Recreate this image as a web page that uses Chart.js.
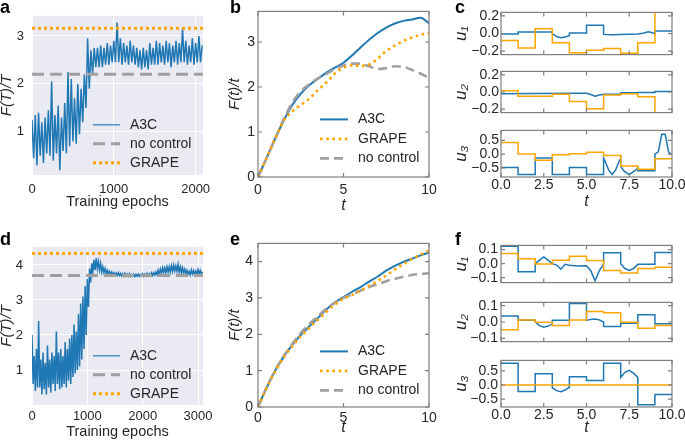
<!DOCTYPE html>
<html>
<head>
<meta charset="utf-8">
<script src="https://cdn.jsdelivr.net/npm/chart.js@4.4.0/dist/chart.umd.min.js"></script>
<style>
  html, body { margin: 0; padding: 0; background: #fff; }
  #fig { position: relative; width: 685px; height: 442px; overflow: hidden; }
  #fig canvas { position: absolute; }
  .tag { position: absolute; font: bold 18px "Liberation Sans", Arial, sans-serif; color: #000; line-height: 1; }
</style>
</head>
<body>
<div id="fig">
  <canvas id="cA"></canvas>
  <canvas id="cB"></canvas>
  <canvas id="cC1"></canvas>
  <canvas id="cC2"></canvas>
  <canvas id="cC3"></canvas>
  <canvas id="cD"></canvas>
  <canvas id="cE"></canvas>
  <canvas id="cF1"></canvas>
  <canvas id="cF2"></canvas>
  <canvas id="cF3"></canvas>
  <div class="tag" style="left:0;top:-2px">a</div>
  <div class="tag" style="left:230px;top:-2px">b</div>
  <div class="tag" style="left:455px;top:-2px">c</div>
  <div class="tag" style="left:0;top:230px">d</div>
  <div class="tag" style="left:230px;top:230px">e</div>
  <div class="tag" style="left:455px;top:230px">f</div>
</div>
<script>
// ---- data ----

// a, d: F(T)/T during training, one value every 20 epochs
const epochStep = 20;
const fitA = [
  1.25, 0.45, 1.35, 0.3, 1.4, 0.5, 1.2, 0.35, 1.3, 0.55,
  1.45, 0.5, 2.05, 0.4, 1.35, 0.55, 1.55, 0.2, 1.3, 0.6,
  1.6, 0.55, 2.25, 0.7, 2.1, 0.8, 1.7, 0.75, 2.0, 0.95,
  1.9, 1.2, 2.2, 1.5, 2.95, 1.9, 2.7, 2.2, 2.75, 2.35,
  2.75, 2.35, 2.8, 2.35, 2.75, 2.4, 2.85, 2.4, 2.8, 2.45,
  2.9, 2.45, 3.28, 2.45, 2.95, 2.4, 2.85, 2.45, 2.8, 2.4,
  2.9, 2.45, 2.8, 2.4, 2.75, 2.35, 2.7, 2.3, 2.75, 2.35,
  2.7, 2.3, 2.85, 2.4, 2.75, 2.4, 2.9, 2.4, 2.85, 2.45,
  2.8, 2.4, 2.9, 2.45, 2.85, 2.35, 2.8, 2.45, 2.9, 2.4,
  2.85, 2.45, 3.15, 2.45, 2.9, 2.4, 2.8, 2.45, 2.95, 2.4,
  2.85, 2.45, 3.0, 2.45, 2.8
];
const noControlA = 2.2, grapeA = 3.16;

const fitD = [
  2.0, 0.6, 1.4, 0.4, 1.6, 0.5, 2.4, 0.5, 1.3, 0.3,
  1.5, 0.45, 1.2, 0.3, 1.7, 0.5, 1.3, 0.35, 1.5, 0.6,
  1.4, 0.4, 2.1, 0.6, 1.5, 0.45, 1.6, 0.5, 1.4, 0.6,
  1.8, 0.5, 1.6, 0.7, 1.9, 0.6, 2.0, 0.8, 2.3, 0.9,
  2.1, 1.0, 2.6, 1.1, 2.9, 1.3, 3.1, 1.6, 3.4, 2.0,
  3.6, 2.8, 3.9, 3.5, 4.05, 3.8, 4.15, 3.85, 4.2, 3.9,
  4.1, 3.85, 4.05, 3.8, 3.95, 3.78, 3.9, 3.75, 3.85, 3.75,
  3.82, 3.73, 3.8, 3.72, 3.78, 3.71, 3.77, 3.7, 3.78, 3.7,
  3.76, 3.69, 3.75, 3.68, 3.76, 3.68, 3.74, 3.68, 3.75, 3.67,
  3.73, 3.68, 3.74, 3.67, 3.73, 3.68, 3.74, 3.68, 3.73, 3.69,
  3.75, 3.68, 3.74, 3.69, 3.76, 3.69, 3.75, 3.7, 3.78, 3.7,
  3.78, 3.71, 3.8, 3.72, 3.85, 3.74, 3.88, 3.76, 3.92, 3.78,
  3.92, 3.78, 3.95, 3.8, 3.95, 3.8, 3.98, 3.82, 4.0, 3.83,
  3.97, 3.82, 4.02, 3.8, 3.95, 3.78, 3.92, 3.77, 3.88, 3.75,
  3.85, 3.73, 3.82, 3.72, 3.86, 3.74, 3.84, 3.72, 3.82, 3.74,
  3.87, 3.74, 3.85, 3.75, 3.8
];
const noControlD = 3.7, grapeD = 4.33;

// b, e: F(t)/t along the trajectory
const tCurve = [0, 0.5, 1, 1.5, 2, 2.5, 3, 3.5, 4, 4.5, 5, 5.5, 6, 6.5, 7, 7.5, 8, 8.5, 9, 9.5, 10];
const a3cB    = [0, 0.42, 0.85, 1.25, 1.6, 1.85, 2.04, 2.18, 2.32, 2.43, 2.54, 2.7, 2.88, 3.05, 3.2, 3.32, 3.41, 3.47, 3.5, 3.54, 3.42];
const grapeB  = [0, 0.42, 0.85, 1.25, 1.46, 1.6, 1.74, 1.93, 2.1, 2.3, 2.43, 2.48, 2.47, 2.5, 2.63, 2.8, 2.92, 3.02, 3.1, 3.16, 3.2];
const noCtrlB = [0, 0.42, 0.85, 1.28, 1.65, 1.9, 2.06, 2.19, 2.29, 2.4, 2.48, 2.52, 2.52, 2.46, 2.4, 2.42, 2.46, 2.45, 2.38, 2.3, 2.2];
const a3cE    = [0, 0.53, 1.0, 1.38, 1.7, 1.98, 2.22, 2.45, 2.68, 2.88, 3.02, 3.17, 3.3, 3.45, 3.59, 3.75, 3.88, 3.99, 4.08, 4.17, 4.25];
const grapeE  = [0, 0.52, 0.98, 1.36, 1.67, 1.94, 2.18, 2.4, 2.62, 2.82, 2.98, 3.08, 3.2, 3.33, 3.47, 3.62, 3.78, 3.93, 4.07, 4.19, 4.3];
const noCtrlE = [0, 0.53, 1.0, 1.4, 1.73, 2.03, 2.28, 2.5, 2.7, 2.87, 3.0, 3.1, 3.2, 3.3, 3.38, 3.46, 3.53, 3.58, 3.63, 3.66, 3.68];

// c, f: control pulses. GRAPE is constant on each [k, k+1)
const grapeCu1 = [-0.08, -0.165, 0.055, -0.105, -0.22, -0.19, -0.17, -0.225, -0.105, 0.45];
const grapeCu2 = [0.015, -0.05, -0.05, -0.025, -0.11, -0.195, -0.035, -0.02, -0.055, -0.45];
const grapeCu3 = [0.42, 0.0, -0.22, -0.02, 0.01, 0.07, -0.05, -0.43, -0.55, -0.17];
const grapeFu1 = [0.072, 0.035, -0.002, 0.025, 0.053, 0.022, -0.048, -0.067, -0.035, -0.025];
const grapeFu2 = [-0.047, 0.013, -0.002, -0.022, 0.012, 0.065, 0.057, -0.002, -0.038, -0.022];
const grapeFu3 = [0, 0, 0, 0, 0, 0, 0, 0, 0, 0];

// A3C pulses as [t, u] vertices
const a3cCu1 = [[0, -0.005], [1, -0.005], [1, 0.016], [3, 0.016], [3, 0.0], [3.25, -0.035], [3.5, -0.047], [3.75, -0.04], [4, -0.026],
  [4, 0.006], [5, 0.006], [5, 0.094], [6, 0.094], [6, -0.01], [6.5, -0.013], [7, -0.01], [8, -0.005], [8.3, 0.004], [8.6, 0.02],
  [8.8, 0.012], [9, -0.002], [9, 0.029], [10, 0.029]];
const a3cCu2 = [[0, -0.02], [4, -0.016], [5, -0.015], [5.25, -0.03], [5.5, -0.05], [5.75, -0.035], [6, -0.025], [7, -0.025],
  [7, -0.008], [8, -0.008], [8, -0.005], [9, -0.005], [9, 0.005], [10, 0.005]];
const a3cCu3 = [[0, -0.49], [1, -0.49], [1, -0.74], [2, -0.74], [2, -0.14], [3, -0.14], [3, -0.74], [4, -0.74], [4, -0.49], [5, -0.49],
  [5, -0.74], [6, -0.74], [6, -0.15], [6.15, -0.35], [6.3, -0.58], [6.5, -0.74], [6.7, -0.58], [6.85, -0.35], [7, -0.15],
  [7, -0.45], [7.2, -0.62], [7.5, -0.74], [7.8, -0.62], [8, -0.5], [8, -0.6], [9, -0.6], [9, 0.0], [9.2, 0.08], [9.4, 0.72],
  [9.6, 0.72], [9.8, 0.08], [9.9, 0.01], [10, 0.01]];
const a3cFu1 = [[0, 0.124], [1, 0.124], [1, -0.057], [2, -0.057], [2, 0.0], [2.25, 0.025], [2.5, 0.048], [2.75, 0.025], [3, 0.0],
  [3.25, -0.01], [3.5, -0.04], [3.75, -0.005], [4, -0.012], [4.5, -0.016], [5, -0.015], [5.25, -0.05], [5.5, -0.122],
  [5.75, -0.05], [6, -0.005], [6, 0.078], [7, 0.078], [7, 0.0], [7.25, -0.035], [7.5, -0.048], [7.75, -0.035], [8, -0.005],
  [9, -0.005], [9, 0.08], [10, 0.08]];
const a3cFu2 = [[0, 0.037], [1, 0.037], [1, 0.01], [2, 0.01], [2, 0.0], [2.25, -0.022], [2.5, -0.032], [2.75, -0.025], [3, -0.013],
  [3, 0.01], [4, 0.01], [4, 0.113], [5, 0.113], [5, 0.01], [5.25, 0.016], [5.5, 0.018], [5.75, 0.013], [6, 0.0], [6, -0.027],
  [7, -0.027], [7, -0.007], [8, -0.007], [8, 0.045], [9, 0.045], [9, -0.01], [10, -0.01]];
const a3cFu3 = [[0, 0.77], [1, 0.77], [1, -0.23], [2, -0.23], [2, 0.4], [3, 0.4], [3, -0.1], [3.25, -0.2], [3.5, -0.24],
  [3.75, -0.18], [4, -0.08], [4, 0.29], [5, 0.29], [5, 0.16], [6, 0.16], [6, 0.77], [7, 0.77], [7, 0.27], [7.25, 0.45],
  [7.5, 0.52], [7.75, 0.42], [8, 0.27], [8, -0.7], [9, -0.7], [9, -0.34], [10, -0.34]];

// tick values
const ticksEpochA = [0, 1000, 2000], ticksFitA = [1, 2, 3];
const ticksEpochD = [0, 1000, 2000, 3000], ticksFitD = [1, 2, 3, 4];
const ticksT = [0, 5, 10], ticksFB = [0, 1, 2, 3], ticksFE = [0, 1, 2, 3, 4];
const ticksPulseT = [0, 2.5, 5, 7.5, 10];
const ticksU2 = [-0.2, 0, 0.2], ticksU1 = [-0.1, 0, 0.1], ticksU3 = [-0.5, 0, 0.5];

// ---- drawing ----
const BLUE = '#1f77b4', ORANGE = '#ffa500', GRAY = '#a0a0a0', FRAME = '#7f7f7f', INK = '#262626';
const FONT = '"Liberation Sans", Arial, sans-serif';
Chart.defaults.font.family = FONT;
Chart.defaults.color = INK;

const shade = {
  id: 'shade',
  beforeDraw(chart, args, o) {
    if (!o || !o.color) return;
    const {ctx, chartArea: a} = chart;
    ctx.save();
    ctx.fillStyle = o.color;
    ctx.fillRect(a.left, a.top, a.right - a.left, a.bottom - a.top);
    ctx.restore();
  }
};

// grey box with inward ticks on all four sides
const frame = {
  id: 'frame',
  afterDatasetsDraw(chart, args, o) {
    if (!o || !o.color) return;
    const {ctx, chartArea: a, scales: {x, y}} = chart;
    ctx.save();
    ctx.strokeStyle = o.color;
    ctx.lineWidth = 1.2;
    ctx.strokeRect(a.left, a.top, a.right - a.left, a.bottom - a.top);
    ctx.beginPath();
    x.ticks.forEach(t => {
      const p = x.getPixelForValue(t.value);
      ctx.moveTo(p, a.bottom); ctx.lineTo(p, a.bottom - 4);
      ctx.moveTo(p, a.top); ctx.lineTo(p, a.top + 4);
    });
    y.ticks.forEach(t => {
      const p = y.getPixelForValue(t.value);
      ctx.moveTo(a.left, p); ctx.lineTo(a.left + 4, p);
      ctx.moveTo(a.right, p); ctx.lineTo(a.right - 4, p);
    });
    ctx.stroke();
    ctx.restore();
  }
};

// legend placed at a fixed spot inside the plot
const cornerLegend = {
  id: 'cornerLegend',
  afterDraw(chart, args, o) {
    if (!o || o.x == null) return;
    const {ctx, chartArea: a} = chart;
    ctx.save();
    ctx.font = o.size + 'px ' + FONT;
    ctx.textBaseline = 'middle';
    ctx.fillStyle = INK;
    chart.data.datasets.forEach((ds, i) => {
      const x = a.left + o.x, y = a.top + o.y + i * o.row;
      ctx.strokeStyle = ds.legendColor || ds.borderColor;
      ctx.lineWidth = ds.legendWidth || ds.borderWidth;
      ctx.setLineDash(ds.borderDash || []);
      ctx.beginPath(); ctx.moveTo(x, y); ctx.lineTo(x + o.len, y); ctx.stroke();
      ctx.fillText(ds.label, x + o.len + o.gap, y);
    });
    ctx.restore();
  }
};

const xy = (xs, ys) => ys.map((y, i) => ({x: xs[i], y}));
const byEpoch = ys => ys.map((y, i) => ({x: i * epochStep, y}));
const level = (v, xmax) => [{x: 0, y: v}, {x: xmax, y: v}];
const steps = v => v.flatMap((u, k) => [{x: k, y: u}, {x: k + 1, y: u}]);
const verts = arr => arr.map(([x, y]) => ({x, y}));
const dec = v => (v < 0 ? '\u2212' : '') + Math.abs(v).toFixed(1);
const int = v => String(v);

function line(label, data, color, width, dash, order, smooth, extra) {
  return Object.assign({
    label, data, borderColor: color, borderWidth: width, borderDash: dash || [], order,
    pointRadius: 0, fill: false,
    tension: smooth ? 0.4 : 0, cubicInterpolationMode: smooth ? 'monotone' : 'default'
  }, extra || {});
}

function axis(o) {
  return {
    type: 'linear', min: o.min, max: o.max,
    afterBuildTicks: s => { s.ticks = o.ticks.map(value => ({value})); },
    afterFit: s => { if (s.isHorizontal()) s.height = o.size; else s.width = o.size; },
    grid: o.grid ? {color: '#ffffff', lineWidth: 1, drawTicks: false} : {display: false, drawTicks: false},
    border: {display: false},
    ticks: {display: o.labels !== false, padding: o.pad || 0, font: {size: o.fs || 13}, color: INK,
            callback: o.fmt || int, maxRotation: 0, autoSkip: false},
    title: o.title ? {display: true, text: o.title, color: INK,
                      font: {size: o.tfs || 15, style: o.italic ? 'italic' : 'normal'},
                      padding: o.tpad || {top: 0, bottom: 0}} : {display: false}
  };
}

function panel(id, box, m, datasets, x, y, plug) {
  const cv = document.getElementById(id);
  const w = box.w + m.L + m.R, h = box.h + m.T + m.B;
  cv.width = w; cv.height = h;
  Object.assign(cv.style, {left: (box.l - m.L) + 'px', top: (box.t - m.T) + 'px', width: w + 'px', height: h + 'px'});
  x.size = m.B; y.size = m.L;
  return new Chart(cv, {
    type: 'line',
    data: {datasets},
    options: {
      responsive: false, animation: false, events: [],
      layout: {padding: {top: m.T, right: m.R, left: 0, bottom: 0}, autoPadding: false},
      scales: {x: axis(x), y: axis(y)},
      plugins: Object.assign({legend: {display: false}, tooltip: {enabled: false}}, plug)
    },
    plugins: [shade, frame, cornerLegend]
  });
}

// a
panel('cA', {l: 32, t: 9, w: 171, h: 166}, {L: 40, T: 9, R: 20, B: 38}, [
  line('A3C', byEpoch(fitA), '#1f77b4', 1.5, null, 3, false, {legendColor: '#4a93c6', legendWidth: 1.5}),
  line('no control', level(noControlA, 2090), GRAY, 3, [12, 6], 2),
  line('GRAPE', level(grapeA, 2090), ORANGE, 3, [3, 3], 1)
], {min: 0, max: 2090, ticks: ticksEpochA, grid: true, pad: 7, fs: 13, title: 'Training epochs', tfs: 14.5, tpad: {top: 0, bottom: 2}},
   {min: 0.1, max: 3.42, ticks: ticksFitA, grid: true, pad: 8, fs: 13, title: 'F(T)/T', italic: true, tfs: 15, tpad: {top: 6, bottom: 0}},
   {shade: {color: '#eaeaf2'}, cornerLegend: {x: 61, y: 109, row: 19, len: 27, gap: 10, size: 14}});

// b
panel('cB', {l: 258, t: 10, w: 171, h: 167}, {L: 36, T: 10, R: 20, B: 38}, [
  line('A3C', xy(tCurve, a3cB), BLUE, 2, null, 3, true),
  line('GRAPE', xy(tCurve, grapeB), ORANGE, 2.6, [2.6, 3.6], 1, true),
  line('no control', xy(tCurve, noCtrlB), GRAY, 2.6, [9, 5], 2, true)
], {min: 0, max: 10, ticks: ticksT, pad: 5, fs: 14, title: 't', italic: true, tfs: 16, tpad: {top: 0, bottom: 0}},
   {min: 0, max: 3.68, ticks: ticksFB, pad: 3, fs: 14, title: 'F(t)/t', italic: true, tfs: 15, tpad: {top: 4, bottom: 0}},
   {frame: {color: FRAME}, cornerLegend: {x: 62, y: 108, row: 19.5, len: 28, gap: 10, size: 14}});

// c
const pulseX = labels => ({min: 0, max: 10, ticks: ticksPulseT, labels, pad: 0, fs: 14, fmt: dec,
  title: labels ? 't' : null, italic: true, tfs: 16, tpad: {top: 0, bottom: 0}});
const pulseY = (min, max, ticks, title) => ({min, max, ticks, pad: 2, fs: 14, fmt: dec, title, italic: true, tfs: 17, tpad: {top: 2, bottom: 0}});
const pulses = (grape, a3c) => [
  line('GRAPE', steps(grape), ORANGE, 1.5, null, 1),
  line('A3C', verts(a3c), BLUE, 1.5, null, 2)
];
panel('cC1', {l: 501, t: 10, w: 171, h: 49}, {L: 52, T: 8, R: 16, B: 6}, pulses(grapeCu1, a3cCu1),
  pulseX(false), pulseY(-0.24, 0.24, ticksU2, 'u\u2081'), {frame: {color: FRAME}});
panel('cC2', {l: 501, t: 69, w: 171, h: 48}, {L: 52, T: 8, R: 16, B: 6}, pulses(grapeCu2, a3cCu2),
  pulseX(false), pulseY(-0.24, 0.24, ticksU2, 'u\u2082'), {frame: {color: FRAME}});
panel('cC3', {l: 501, t: 128, w: 171, h: 49}, {L: 52, T: 8, R: 16, B: 34}, pulses(grapeCu3, a3cCu3),
  pulseX(true), pulseY(-0.83, 0.86, ticksU3, 'u\u2083'), {frame: {color: FRAME}});

// d
panel('cD', {l: 32, t: 239, w: 171, h: 166}, {L: 40, T: 9, R: 20, B: 38}, [
  line('A3C', byEpoch(fitD), '#1f77b4', 1.5, null, 3, false, {legendColor: '#4a93c6', legendWidth: 1.5}),
  line('no control', level(noControlD, 3090), GRAY, 3, [12, 6], 2),
  line('GRAPE', level(grapeD, 3090), ORANGE, 3, [3, 3], 1)
], {min: 0, max: 3090, ticks: ticksEpochD, grid: true, pad: 4, fs: 13, title: 'Training epochs', tfs: 14.5, tpad: {top: 0, bottom: 2}},
   {min: 0, max: 4.52, ticks: ticksFitD, grid: true, pad: 9, fs: 13, title: 'F(T)/T', italic: true, tfs: 15, tpad: {top: 6, bottom: 0}},
   {shade: {color: '#eaeaf2'}, cornerLegend: {x: 61, y: 109, row: 19, len: 27, gap: 10, size: 14}});

// e
panel('cE', {l: 258, t: 240, w: 171, h: 167}, {L: 36, T: 10, R: 20, B: 30}, [
  line('A3C', xy(tCurve, a3cE), BLUE, 2, null, 3, true),
  line('GRAPE', xy(tCurve, grapeE), ORANGE, 2.6, [2.6, 3.6], 1, true),
  line('no control', xy(tCurve, noCtrlE), GRAY, 2.6, [9, 5], 2, true)
], {min: 0, max: 10, ticks: ticksT, pad: 3, fs: 14, title: 't', italic: true, tfs: 16, tpad: {top: 0, bottom: 0}},
   {min: 0, max: 4.5, ticks: ticksFE, pad: 5, fs: 14, title: 'F(t)/t', italic: true, tfs: 15, tpad: {top: 4, bottom: 0}},
   {frame: {color: FRAME}, cornerLegend: {x: 62, y: 108, row: 19.5, len: 28, gap: 10, size: 14}});

// f
panel('cF1', {l: 501, t: 242, w: 171, h: 46}, {L: 52, T: 8, R: 16, B: 6}, pulses(grapeFu1, a3cFu1),
  pulseX(false), Object.assign(pulseY(-0.135, 0.13, ticksU1, 'u\u2081'), {pad: 3}), {frame: {color: FRAME}});
panel('cF2', {l: 501, t: 299, w: 171, h: 48}, {L: 52, T: 8, R: 16, B: 6}, pulses(grapeFu2, a3cFu2),
  pulseX(false), Object.assign(pulseY(-0.12, 0.12, ticksU1, 'u\u2082'), {pad: 3}), {frame: {color: FRAME}});
panel('cF3', {l: 501, t: 357, w: 171, h: 50}, {L: 52, T: 8, R: 16, B: 30}, pulses(grapeFu3, a3cFu3),
  pulseX(true), Object.assign(pulseY(-0.78, 0.87, ticksU3, 'u\u2083'), {pad: 3}), {frame: {color: FRAME}});
</script>
</body>
</html>
